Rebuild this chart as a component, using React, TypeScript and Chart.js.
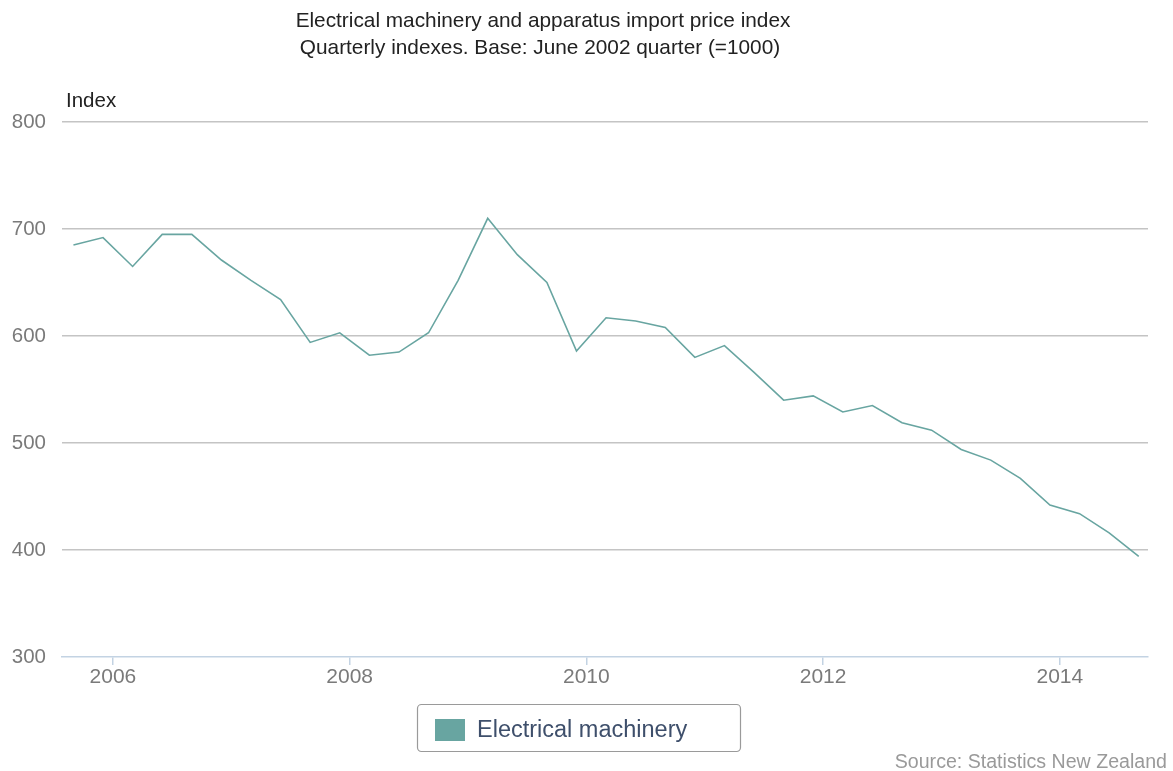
import React, { useEffect, useRef } from "react";
import { Chart, registerables } from "chart.js";

Chart.register(...registerables);

const TITLE = "Electrical machinery and apparatus import price index";
const SUBTITLE = "Quarterly indexes. Base: June 2002 quarter (=1000)";
const Y_LABEL = "Index";
const SOURCE = "Source: Statistics New Zealand";
const SERIES_NAME = "Electrical machinery";

// quarter-end months
const QUARTERS = [
  "2005-09", "2005-12", "2006-03", "2006-06", "2006-09", "2006-12",
  "2007-03", "2007-06", "2007-09", "2007-12", "2008-03", "2008-06",
  "2008-09", "2008-12", "2009-03", "2009-06", "2009-09", "2009-12",
  "2010-03", "2010-06", "2010-09", "2010-12", "2011-03", "2011-06",
  "2011-09", "2011-12", "2012-03", "2012-06", "2012-09", "2012-12",
  "2013-03", "2013-06", "2013-09", "2013-12", "2014-03", "2014-06",
  "2014-09",
];

const VALUES = [
  685, 692, 665, 695, 695, 671,
  652, 634, 594, 603, 582, 585,
  603, 652, 710, 676, 650, 586,
  617, 614, 608, 580, 591, 566,
  540, 544, 529, 535, 519, 512,
  494, 484, 467, 442, 434, 416,
  394,
];

const X_TICKS = [2006, 2008, 2010, 2012, 2014];
const Y_TICKS = [300, 400, 500, 600, 700, 800];

const LINE_COLOR = "#68a5a1";
const FONT = "'Liberation Sans', Arial, sans-serif";

function toYear(q: string): number {
  const [y, m] = q.split("-").map(Number);
  return y + (m - 1) / 12;
}

const decorPlugin = {
  id: "decor",
  afterDraw(chart: any) {
    const ctx = chart.ctx as CanvasRenderingContext2D;
    const W = chart.width;
    ctx.save();
    // titles
    ctx.fillStyle = "#222";
    ctx.font = `20.8px ${FONT}`;
    ctx.textAlign = "center";
    ctx.textBaseline = "middle";
    ctx.fillText(TITLE, 543, 21);
    ctx.fillText(SUBTITLE, 540, 48);
    // axis title
    ctx.textAlign = "left";
    ctx.font = `20.5px ${FONT}`;
    ctx.fillText(Y_LABEL, 66, 101);
    // legend
    const ds = chart.data.datasets[0];
    const lx = 417, ly = 704, lw = 323, lh = 47;
    ctx.strokeStyle = "#9a9a9a";
    ctx.lineWidth = 1.2;
    ctx.beginPath();
    (ctx as any).roundRect(lx + 0.5, ly + 0.5, lw, lh, 4);
    ctx.stroke();
    ctx.fillStyle = ds.borderColor;
    ctx.fillRect(435, 719, 30, 22);
    ctx.fillStyle = "#3e4f6b";
    ctx.font = `23.5px ${FONT}`;
    ctx.textBaseline = "middle";
    ctx.fillText(ds.label, 477, 731);
    // source
    ctx.fillStyle = "#9a9a9a";
    ctx.font = `19.6px ${FONT}`;
    ctx.textAlign = "right";
    ctx.fillText(SOURCE, W - 6, 763);
    ctx.restore();
  },
};

export default function App() {
  const ref = useRef<HTMLCanvasElement | null>(null);

  useEffect(() => {
    document.body.style.margin = "0";
    const canvas = ref.current;
    if (!canvas) return;
    const data = QUARTERS.map((q, i) => ({ x: toYear(q), y: VALUES[i] }));
    const chart = new Chart(canvas, {
      type: "line",
      data: {
        datasets: [
          {
            label: SERIES_NAME,
            data,
            borderColor: LINE_COLOR,
            backgroundColor: LINE_COLOR,
            borderWidth: 1.6,
            pointRadius: 0,
            tension: 0,
          },
        ],
      },
      options: {
        animation: false,
        responsive: true,
        maintainAspectRatio: false,
        layout: { padding: { top: 122, left: 0, right: 25, bottom: 74 } },
        plugins: {
          legend: { display: false },
          title: { display: false },
          tooltip: { enabled: false },
        },
        scales: {
          x: {
            type: "linear",
            min: 2005.57,
            max: 2014.745,
            afterFit: (s: any) => {
              s.height = 40;
            },
            afterBuildTicks: (s: any) => {
              s.ticks = X_TICKS.map((v) => ({ value: v }));
            },
            grid: {
              drawOnChartArea: false,
              drawTicks: true,
              tickLength: 8,
              color: "#c3d3e3",
              lineWidth: 1.5,
            },
            border: { color: "#c3d3e3", width: 1.5 },
            ticks: {
              color: "#7a7a7a",
              font: { family: FONT, size: 21 },
              padding: 0,
              maxRotation: 0,
              callback: (v: any) => String(v),
            },
          },
          y: {
            min: 300,
            max: 800,
            afterFit: (s: any) => {
              s.width = 62;
            },
            afterBuildTicks: (s: any) => {
              s.ticks = Y_TICKS.map((v) => ({ value: v }));
            },
            grid: {
              drawTicks: false,
              color: (c: any) => (c.tick && c.tick.value === 300 ? "rgba(0,0,0,0)" : "#c4c4c4"),
              lineWidth: 1.5,
            },
            border: { display: false },
            ticks: {
              color: "#7a7a7a",
              font: { family: FONT, size: 20.5 },
              padding: 16,
            },
          },
        },
      },
      plugins: [decorPlugin],
    });
    return () => chart.destroy();
  }, []);

  return (
    <div style={{ width: 1173, height: 771, position: "relative" }}>
      <canvas ref={ref} />
    </div>
  );
}
